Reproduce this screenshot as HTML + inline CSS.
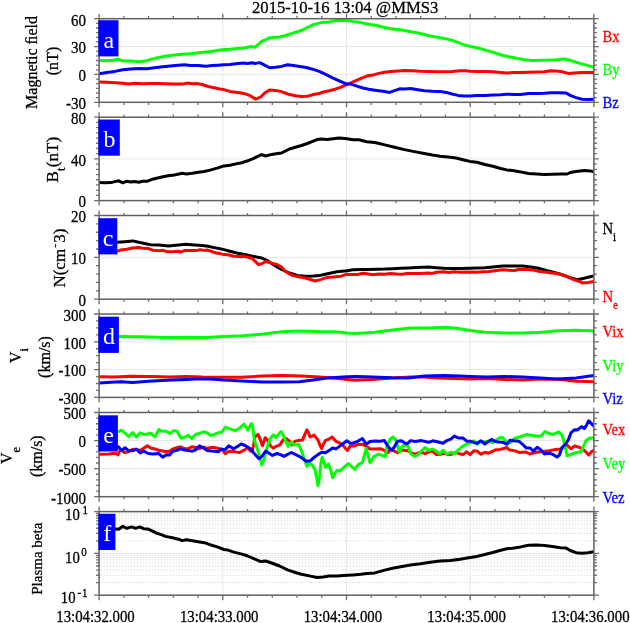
<!DOCTYPE html><html><head><meta charset="utf-8"><style>html,body{margin:0;padding:0;background:#fff;overflow:hidden}svg{display:block}</style></head><body><svg width="630" height="623" viewBox="0 0 630 623">
<rect width="630" height="623" fill="#fff"/>
<line x1="99.1" y1="46.57" x2="593.9" y2="46.57" stroke="#e8e8e8" stroke-width="1"/><line x1="99.1" y1="74.43" x2="593.9" y2="74.43" stroke="#e8e8e8" stroke-width="1"/><line x1="222.80" y1="18.7" x2="222.80" y2="102.3" stroke="#e8e8e8" stroke-width="1"/><line x1="346.50" y1="18.7" x2="346.50" y2="102.3" stroke="#e8e8e8" stroke-width="1"/><line x1="470.20" y1="18.7" x2="470.20" y2="102.3" stroke="#e8e8e8" stroke-width="1"/>
<clipPath id="cpa"><rect x="99.1" y="18.7" width="494.80" height="83.60"/></clipPath><g clip-path="url(#cpa)">
<polyline points="99.0,82.1 106.9,82.3 114.9,82.7 122.8,83.3 128.8,84.1 134.7,83.3 142.7,83.7 150.6,83.5 158.5,83.5 166.5,83.7 174.4,84.1 182.3,84.1 187.3,83.1 192.3,83.7 196.2,83.5 202.2,84.5 208.1,86.5 214.1,87.8 220.0,89.0 224.0,89.6 229.9,91.4 237.9,92.4 243.8,93.4 249.8,95.4 255.7,99.2 260.7,97.0 264.7,93.0 269.6,90.0 275.6,90.4 281.5,91.6 287.5,94.0 295.4,95.8 301.4,96.4 307.3,96.2 313.3,94.6 319.2,93.6 323.2,92.0 329.1,90.8 335.1,89.2 341.0,87.1 347.0,84.3 351.0,82.9 356.9,80.1 362.9,77.7 366.8,76.1 372.8,75.1 378.7,73.4 384.7,72.2 390.6,71.4 398.6,71.0 404.5,70.6 412.5,70.8 420.4,71.2 428.3,71.4 436.3,71.8 444.2,71.8 452.1,71.6 460.1,70.8 466.0,70.8 470.0,71.2 476.9,71.4 484.9,71.6 492.8,71.8 500.7,72.4 506.7,73.0 512.7,72.6 520.6,72.6 528.5,72.2 536.5,72.0 544.4,71.8 550.3,70.8 556.3,71.0 562.3,71.8 568.2,73.4 574.2,73.0 582.1,72.6 588.0,72.6 594.0,72.6" fill="none" stroke="#ff0000" stroke-width="3" stroke-linejoin="round" stroke-linecap="round"/>
<polyline points="99.0,60.3 106.9,60.7 112.9,60.3 117.8,59.3 122.8,60.9 130.7,61.1 138.7,61.7 145.6,60.9 152.6,58.9 158.5,57.5 166.5,56.1 174.4,55.1 182.3,54.3 190.3,53.7 198.2,52.7 206.1,51.9 214.1,50.9 224.0,49.6 229.9,49.2 237.9,48.4 243.8,48.0 247.8,47.2 251.8,46.4 254.7,47.4 257.7,45.0 261.7,41.4 269.6,37.8 279.5,36.9 285.5,35.5 293.4,32.9 301.4,30.5 307.3,27.5 313.3,24.6 321.2,22.6 329.1,22.0 335.1,20.6 341.0,20.2 347.0,20.6 352.9,21.6 360.9,22.6 368.8,24.2 376.7,25.5 384.7,27.5 392.6,29.1 398.6,29.5 404.5,30.5 412.5,31.9 420.4,33.5 428.3,35.5 436.3,37.1 444.2,38.4 452.1,40.4 458.1,42.4 464.0,45.0 470.0,46.4 476.9,47.8 484.9,49.9 492.8,52.3 500.7,54.7 508.7,56.7 516.6,58.3 524.6,59.7 532.5,60.5 540.4,60.3 548.4,60.1 556.3,59.7 564.2,59.1 568.2,59.7 574.2,61.7 580.1,63.4 588.0,65.6 594.0,67.2" fill="none" stroke="#00ff00" stroke-width="3" stroke-linejoin="round" stroke-linecap="round"/>
<polyline points="99.0,73.8 106.9,72.6 114.9,71.4 122.8,69.8 130.7,69.0 138.7,68.6 146.6,68.8 154.6,67.8 162.5,66.8 170.4,66.0 178.4,65.2 184.3,64.8 190.3,65.4 198.2,65.6 206.1,66.2 212.1,65.6 218.0,65.2 224.0,64.8 229.9,64.6 237.9,63.4 243.8,63.0 247.8,63.4 251.8,62.8 255.7,63.4 259.7,62.6 263.7,64.6 269.6,67.8 275.6,67.2 281.5,66.4 287.5,64.8 293.4,65.6 301.4,66.8 307.3,67.8 313.3,69.4 319.2,71.4 325.2,74.2 333.1,78.1 341.0,81.7 347.0,84.1 351.0,84.1 356.9,86.1 362.9,88.0 368.8,89.2 376.7,90.4 384.7,91.6 389.6,92.4 394.6,90.6 399.6,88.8 404.5,89.0 410.5,88.6 416.4,89.6 424.4,90.8 432.3,91.2 440.2,91.4 446.2,92.4 452.1,94.0 458.1,95.4 464.0,96.0 470.0,96.0 476.9,95.4 484.9,95.4 492.8,95.0 500.7,94.8 506.7,94.2 514.6,94.6 520.6,94.4 528.5,93.6 536.5,93.4 544.4,93.2 550.3,92.8 558.3,92.8 566.2,93.0 570.2,95.4 576.1,97.6 582.1,99.2 588.0,99.6 594.0,99.2" fill="none" stroke="#0000ff" stroke-width="3" stroke-linejoin="round" stroke-linecap="round"/>
</g>
<rect x="99.1" y="18.7" width="494.80" height="83.60" fill="none" stroke="#606060" stroke-width="1.5"/>
<path d="M99.10 18.7v-5M99.10 102.3v5M123.84 18.7v-2.6M123.84 102.3v2.6M148.58 18.7v-2.6M148.58 102.3v2.6M173.32 18.7v-2.6M173.32 102.3v2.6M198.06 18.7v-2.6M198.06 102.3v2.6M222.80 18.7v-5M222.80 102.3v5M247.54 18.7v-2.6M247.54 102.3v2.6M272.28 18.7v-2.6M272.28 102.3v2.6M297.02 18.7v-2.6M297.02 102.3v2.6M321.76 18.7v-2.6M321.76 102.3v2.6M346.50 18.7v-5M346.50 102.3v5M371.24 18.7v-2.6M371.24 102.3v2.6M395.98 18.7v-2.6M395.98 102.3v2.6M420.72 18.7v-2.6M420.72 102.3v2.6M445.46 18.7v-2.6M445.46 102.3v2.6M470.20 18.7v-5M470.20 102.3v5M494.94 18.7v-2.6M494.94 102.3v2.6M519.68 18.7v-2.6M519.68 102.3v2.6M544.42 18.7v-2.6M544.42 102.3v2.6M569.16 18.7v-2.6M569.16 102.3v2.6M593.90 18.7v-5M593.90 102.3v5M99.1 102.30h-5M593.9 102.30h5M99.1 97.66h-3M593.9 97.66h3M99.1 93.01h-3M593.9 93.01h3M99.1 88.37h-3M593.9 88.37h3M99.1 83.72h-3M593.9 83.72h3M99.1 79.08h-3M593.9 79.08h3M99.1 74.43h-5M593.9 74.43h5M99.1 69.79h-3M593.9 69.79h3M99.1 65.14h-3M593.9 65.14h3M99.1 60.50h-3M593.9 60.50h3M99.1 55.86h-3M593.9 55.86h3M99.1 51.21h-3M593.9 51.21h3M99.1 46.57h-5M593.9 46.57h5M99.1 41.92h-3M593.9 41.92h3M99.1 37.28h-3M593.9 37.28h3M99.1 32.63h-3M593.9 32.63h3M99.1 27.99h-3M593.9 27.99h3M99.1 23.34h-3M593.9 23.34h3M99.1 18.70h-5M593.9 18.70h5" stroke="#6c6c6c" stroke-width="1.3" fill="none"/>
<line x1="99.1" y1="158.90" x2="593.9" y2="158.90" stroke="#e8e8e8" stroke-width="1"/><line x1="222.80" y1="117.2" x2="222.80" y2="200.6" stroke="#e8e8e8" stroke-width="1"/><line x1="346.50" y1="117.2" x2="346.50" y2="200.6" stroke="#e8e8e8" stroke-width="1"/><line x1="470.20" y1="117.2" x2="470.20" y2="200.6" stroke="#e8e8e8" stroke-width="1"/>
<clipPath id="cpb"><rect x="99.1" y="117.2" width="494.80" height="83.40"/></clipPath><g clip-path="url(#cpb)">
<polyline points="99.0,182.6 105.0,182.8 110.9,182.6 114.9,181.6 118.8,180.8 122.8,182.8 126.8,181.2 130.7,182.0 134.7,181.6 138.7,182.2 142.7,181.2 147.6,181.2 152.6,179.2 158.5,177.8 166.5,176.0 174.4,175.0 182.3,173.3 186.3,173.9 192.3,173.3 198.2,172.3 204.2,171.5 210.1,170.1 218.0,167.9 224.0,165.9 229.9,165.3 235.9,163.9 241.8,162.7 247.8,160.8 253.7,158.4 257.7,156.4 261.7,154.6 265.7,156.0 271.6,154.4 277.6,153.4 281.5,153.0 285.5,151.0 289.5,149.0 295.4,147.3 301.4,145.5 307.3,143.5 313.3,141.1 317.2,139.5 321.2,139.1 327.2,139.5 333.1,138.7 339.1,137.9 347.0,138.7 352.9,139.7 358.9,139.7 366.8,141.7 374.8,142.5 384.7,144.9 394.6,147.3 404.5,149.6 414.4,151.6 424.4,153.4 432.3,155.0 440.2,156.2 448.2,157.0 456.1,158.0 464.0,160.0 470.0,161.4 476.9,162.3 484.9,164.5 492.8,166.3 500.7,168.5 506.7,169.9 512.7,170.5 520.6,171.9 528.5,173.5 536.5,174.0 544.4,174.4 552.3,174.2 560.3,174.0 567.2,174.0 570.2,172.5 576.1,171.5 584.1,170.5 590.0,170.9 594.0,171.7" fill="none" stroke="#000000" stroke-width="3.0" stroke-linejoin="round" stroke-linecap="round"/>
</g>
<rect x="99.1" y="117.2" width="494.80" height="83.40" fill="none" stroke="#606060" stroke-width="1.5"/>
<path d="M99.10 117.2v-5M99.10 200.6v5M123.84 117.2v-2.6M123.84 200.6v2.6M148.58 117.2v-2.6M148.58 200.6v2.6M173.32 117.2v-2.6M173.32 200.6v2.6M198.06 117.2v-2.6M198.06 200.6v2.6M222.80 117.2v-5M222.80 200.6v5M247.54 117.2v-2.6M247.54 200.6v2.6M272.28 117.2v-2.6M272.28 200.6v2.6M297.02 117.2v-2.6M297.02 200.6v2.6M321.76 117.2v-2.6M321.76 200.6v2.6M346.50 117.2v-5M346.50 200.6v5M371.24 117.2v-2.6M371.24 200.6v2.6M395.98 117.2v-2.6M395.98 200.6v2.6M420.72 117.2v-2.6M420.72 200.6v2.6M445.46 117.2v-2.6M445.46 200.6v2.6M470.20 117.2v-5M470.20 200.6v5M494.94 117.2v-2.6M494.94 200.6v2.6M519.68 117.2v-2.6M519.68 200.6v2.6M544.42 117.2v-2.6M544.42 200.6v2.6M569.16 117.2v-2.6M569.16 200.6v2.6M593.90 117.2v-5M593.90 200.6v5M99.1 200.60h-5M593.9 200.60h5M99.1 195.39h-3M593.9 195.39h3M99.1 190.17h-3M593.9 190.17h3M99.1 184.96h-3M593.9 184.96h3M99.1 179.75h-3M593.9 179.75h3M99.1 174.54h-3M593.9 174.54h3M99.1 169.32h-3M593.9 169.32h3M99.1 164.11h-3M593.9 164.11h3M99.1 158.90h-5M593.9 158.90h5M99.1 153.69h-3M593.9 153.69h3M99.1 148.47h-3M593.9 148.47h3M99.1 143.26h-3M593.9 143.26h3M99.1 138.05h-3M593.9 138.05h3M99.1 132.84h-3M593.9 132.84h3M99.1 127.62h-3M593.9 127.62h3M99.1 122.41h-3M593.9 122.41h3M99.1 117.20h-5M593.9 117.20h5" stroke="#6c6c6c" stroke-width="1.3" fill="none"/>
<line x1="99.1" y1="257.35" x2="593.9" y2="257.35" stroke="#e8e8e8" stroke-width="1"/><line x1="222.80" y1="215.5" x2="222.80" y2="299.2" stroke="#e8e8e8" stroke-width="1"/><line x1="346.50" y1="215.5" x2="346.50" y2="299.2" stroke="#e8e8e8" stroke-width="1"/><line x1="470.20" y1="215.5" x2="470.20" y2="299.2" stroke="#e8e8e8" stroke-width="1"/>
<clipPath id="cpc"><rect x="99.1" y="215.5" width="494.80" height="83.70"/></clipPath><g clip-path="url(#cpc)">
<polyline points="99.0,242.7 106.9,242.5 117.3,242.3 124.8,241.7 132.7,240.9 138.7,242.3 144.6,243.5 150.6,244.7 158.5,245.1 168.4,245.9 178.4,245.1 186.3,244.3 194.2,244.9 202.2,245.5 208.1,246.3 214.1,247.6 220.0,248.8 224.0,249.6 229.9,251.2 237.9,253.2 245.8,254.8 253.7,256.4 261.7,258.0 267.6,260.7 273.6,264.7 281.5,269.5 289.5,273.0 297.4,275.4 305.3,276.2 313.3,276.0 319.2,275.6 325.2,274.2 331.1,273.0 337.1,271.8 347.0,270.7 352.9,269.7 360.9,269.5 368.8,269.5 376.7,269.3 384.7,269.1 392.6,268.7 400.6,268.3 408.5,267.9 416.4,267.5 428.3,267.1 436.3,267.7 444.2,268.3 452.1,268.5 460.1,268.5 470.0,268.3 476.9,268.1 484.9,267.7 492.8,266.9 502.7,266.1 512.7,265.9 522.6,265.9 530.5,266.9 538.4,268.3 546.4,270.5 554.3,272.4 562.3,274.8 570.2,277.6 577.1,279.8 584.1,278.2 590.0,276.8 594.0,276.0" fill="none" stroke="#000000" stroke-width="3" stroke-linejoin="round" stroke-linecap="round"/>
<polyline points="99.0,252.2 108.9,251.6 117.3,251.2 120.8,250.0 126.8,249.2 132.7,248.0 138.7,247.6 142.7,248.2 148.6,248.6 152.6,250.2 156.5,250.4 160.5,250.8 162.5,250.2 166.5,251.4 170.4,251.8 174.4,251.6 178.4,251.2 180.3,252.2 184.3,250.6 190.3,250.4 196.2,250.6 200.2,249.6 204.2,250.4 207.1,250.0 212.1,251.6 216.1,253.0 220.0,253.6 224.0,254.6 228.0,254.8 233.9,256.2 239.9,256.4 243.8,256.2 251.8,258.2 258.7,264.7 261.7,263.7 265.7,261.5 271.6,263.1 277.6,264.7 281.5,267.1 285.5,271.5 291.4,275.0 297.4,276.6 305.3,278.0 315.3,281.0 321.2,279.4 327.2,277.4 333.1,277.0 341.0,276.2 347.0,274.2 349.0,274.4 356.9,274.6 362.9,273.2 366.8,273.8 372.8,274.8 378.7,274.0 384.7,274.2 390.6,273.6 396.6,274.0 402.5,274.2 406.5,273.4 412.5,273.4 420.4,273.4 428.3,273.0 432.3,273.4 436.3,272.2 444.2,271.8 448.2,272.4 454.1,271.8 460.1,272.2 470.0,272.0 476.9,272.2 482.9,271.7 488.8,271.5 494.8,270.7 502.7,269.7 508.7,270.3 514.6,270.5 518.6,269.5 526.5,269.3 532.5,269.9 538.4,271.3 546.4,272.2 554.3,273.2 561.3,274.4 568.2,277.0 574.2,279.8 580.1,281.6 582.1,283.0 588.0,282.6 594.0,281.6" fill="none" stroke="#ff0000" stroke-width="3" stroke-linejoin="round" stroke-linecap="round"/>
</g>
<rect x="99.1" y="215.5" width="494.80" height="83.70" fill="none" stroke="#606060" stroke-width="1.5"/>
<path d="M99.10 215.5v-5M99.10 299.2v5M123.84 215.5v-2.6M123.84 299.2v2.6M148.58 215.5v-2.6M148.58 299.2v2.6M173.32 215.5v-2.6M173.32 299.2v2.6M198.06 215.5v-2.6M198.06 299.2v2.6M222.80 215.5v-5M222.80 299.2v5M247.54 215.5v-2.6M247.54 299.2v2.6M272.28 215.5v-2.6M272.28 299.2v2.6M297.02 215.5v-2.6M297.02 299.2v2.6M321.76 215.5v-2.6M321.76 299.2v2.6M346.50 215.5v-5M346.50 299.2v5M371.24 215.5v-2.6M371.24 299.2v2.6M395.98 215.5v-2.6M395.98 299.2v2.6M420.72 215.5v-2.6M420.72 299.2v2.6M445.46 215.5v-2.6M445.46 299.2v2.6M470.20 215.5v-5M470.20 299.2v5M494.94 215.5v-2.6M494.94 299.2v2.6M519.68 215.5v-2.6M519.68 299.2v2.6M544.42 215.5v-2.6M544.42 299.2v2.6M569.16 215.5v-2.6M569.16 299.2v2.6M593.90 215.5v-5M593.90 299.2v5M99.1 299.20h-5M593.9 299.20h5M99.1 290.83h-3M593.9 290.83h3M99.1 282.46h-3M593.9 282.46h3M99.1 274.09h-3M593.9 274.09h3M99.1 265.72h-3M593.9 265.72h3M99.1 257.35h-5M593.9 257.35h5M99.1 248.98h-3M593.9 248.98h3M99.1 240.61h-3M593.9 240.61h3M99.1 232.24h-3M593.9 232.24h3M99.1 223.87h-3M593.9 223.87h3M99.1 215.50h-5M593.9 215.50h5" stroke="#6c6c6c" stroke-width="1.3" fill="none"/>
<line x1="99.1" y1="341.80" x2="593.9" y2="341.80" stroke="#e8e8e8" stroke-width="1"/><line x1="99.1" y1="369.60" x2="593.9" y2="369.60" stroke="#e8e8e8" stroke-width="1"/><line x1="222.80" y1="314.0" x2="222.80" y2="397.4" stroke="#e8e8e8" stroke-width="1"/><line x1="346.50" y1="314.0" x2="346.50" y2="397.4" stroke="#e8e8e8" stroke-width="1"/><line x1="470.20" y1="314.0" x2="470.20" y2="397.4" stroke="#e8e8e8" stroke-width="1"/>
<clipPath id="cpd"><rect x="99.1" y="314.0" width="494.80" height="83.40"/></clipPath><g clip-path="url(#cpd)">
<polyline points="99.0,376.7 114.9,376.9 130.7,376.3 150.6,376.5 170.4,376.9 186.3,376.5 202.2,377.1 224.0,377.3 241.8,377.3 261.7,376.1 281.5,375.5 301.4,376.1 319.2,376.9 333.1,377.9 347.0,379.5 354.9,380.3 372.8,379.5 392.6,377.9 410.5,376.9 424.4,376.9 438.3,377.9 454.1,378.5 470.0,378.9 486.9,378.5 504.7,379.5 522.6,380.1 540.4,378.9 558.3,379.3 576.1,381.3 594.0,381.7" fill="none" stroke="#ff0000" stroke-width="3" stroke-linejoin="round" stroke-linecap="round"/>
<polyline points="99.0,336.4 118.8,336.4 138.7,336.8 158.5,337.2 170.4,337.4 188.3,337.2 206.1,337.6 224.0,336.4 241.8,335.8 261.7,334.2 281.5,331.8 297.4,330.9 311.3,331.3 321.2,331.7 335.1,331.7 347.0,333.0 354.9,333.6 372.8,332.6 392.6,329.9 410.5,328.1 428.3,327.9 446.2,327.3 458.1,328.5 470.0,330.5 484.9,332.2 504.7,333.0 520.6,333.0 538.4,332.4 558.3,330.7 576.1,330.3 594.0,330.9" fill="none" stroke="#00ff00" stroke-width="3" stroke-linejoin="round" stroke-linecap="round"/>
<polyline points="99.0,383.0 110.9,382.2 120.8,381.8 132.7,382.4 148.6,381.3 166.5,380.3 186.3,379.5 200.2,378.7 210.1,379.1 224.0,380.1 241.8,380.9 261.7,382.0 281.5,382.0 299.4,381.7 313.3,379.9 327.2,378.1 347.0,376.7 356.9,376.5 372.8,376.9 392.6,377.7 408.5,377.9 424.4,376.1 444.2,375.5 460.1,376.1 470.0,376.5 486.9,377.1 504.7,376.5 522.6,377.1 540.4,377.9 556.3,379.1 576.1,377.9 594.0,375.5" fill="none" stroke="#0000ff" stroke-width="3" stroke-linejoin="round" stroke-linecap="round"/>
</g>
<rect x="99.1" y="314.0" width="494.80" height="83.40" fill="none" stroke="#606060" stroke-width="1.5"/>
<path d="M99.10 314.0v-5M99.10 397.4v5M123.84 314.0v-2.6M123.84 397.4v2.6M148.58 314.0v-2.6M148.58 397.4v2.6M173.32 314.0v-2.6M173.32 397.4v2.6M198.06 314.0v-2.6M198.06 397.4v2.6M222.80 314.0v-5M222.80 397.4v5M247.54 314.0v-2.6M247.54 397.4v2.6M272.28 314.0v-2.6M272.28 397.4v2.6M297.02 314.0v-2.6M297.02 397.4v2.6M321.76 314.0v-2.6M321.76 397.4v2.6M346.50 314.0v-5M346.50 397.4v5M371.24 314.0v-2.6M371.24 397.4v2.6M395.98 314.0v-2.6M395.98 397.4v2.6M420.72 314.0v-2.6M420.72 397.4v2.6M445.46 314.0v-2.6M445.46 397.4v2.6M470.20 314.0v-5M470.20 397.4v5M494.94 314.0v-2.6M494.94 397.4v2.6M519.68 314.0v-2.6M519.68 397.4v2.6M544.42 314.0v-2.6M544.42 397.4v2.6M569.16 314.0v-2.6M569.16 397.4v2.6M593.90 314.0v-5M593.90 397.4v5M99.1 397.40h-5M593.9 397.40h5M99.1 390.45h-3M593.9 390.45h3M99.1 383.50h-3M593.9 383.50h3M99.1 376.55h-3M593.9 376.55h3M99.1 369.60h-5M593.9 369.60h5M99.1 362.65h-3M593.9 362.65h3M99.1 355.70h-3M593.9 355.70h3M99.1 348.75h-3M593.9 348.75h3M99.1 341.80h-5M593.9 341.80h5M99.1 334.85h-3M593.9 334.85h3M99.1 327.90h-3M593.9 327.90h3M99.1 320.95h-3M593.9 320.95h3M99.1 314.00h-5M593.9 314.00h5" stroke="#6c6c6c" stroke-width="1.3" fill="none"/>
<line x1="99.1" y1="440.57" x2="593.9" y2="440.57" stroke="#e8e8e8" stroke-width="1"/><line x1="99.1" y1="468.63" x2="593.9" y2="468.63" stroke="#e8e8e8" stroke-width="1"/><line x1="222.80" y1="412.5" x2="222.80" y2="496.7" stroke="#e8e8e8" stroke-width="1"/><line x1="346.50" y1="412.5" x2="346.50" y2="496.7" stroke="#e8e8e8" stroke-width="1"/><line x1="470.20" y1="412.5" x2="470.20" y2="496.7" stroke="#e8e8e8" stroke-width="1"/>
<clipPath id="cpe"><rect x="99.1" y="412.5" width="494.80" height="84.20"/></clipPath><g clip-path="url(#cpe)">
<polyline points="99.0,454.3 108.9,453.9 115.9,453.3 117.9,454.9 119.8,451.1 121.7,450.1 124.5,452.5 127.4,452.0 132.1,449.6 136.0,449.2 139.8,450.6 143.6,448.2 147.4,445.8 151.2,448.2 155.0,449.0 159.8,450.6 165.5,451.6 169.3,451.3 172.9,448.9 176.7,447.8 180.5,446.8 184.3,448.7 188.1,448.5 191.9,446.8 195.7,447.5 199.5,448.7 203.3,447.0 207.1,448.5 211.0,447.5 214.8,447.6 218.6,448.5 222.4,449.9 225.2,453.7 228.8,451.2 234.5,451.6 239.3,452.6 244.0,450.2 247.9,447.8 250.7,451.2 252.6,449.7 255.2,436.3 258.1,434.4 260.5,440.1 262.4,445.8 265.2,437.7 267.6,440.1 270.5,445.8 273.3,448.2 276.2,446.3 280.0,444.9 282.9,440.1 285.7,438.2 289.5,441.1 291.9,444.9 295.2,441.1 298.8,440.4 302.6,439.9 304.5,435.1 306.9,429.9 308.3,432.3 310.2,437.0 314.0,435.1 317.9,439.9 320.2,445.6 321.7,448.5 323.6,443.7 325.5,440.4 328.3,439.4 332.1,437.0 336.0,441.3 339.8,443.2 342.6,444.6 345.0,448.0 347.4,450.4 350.2,446.1 353.8,446.1 357.6,444.6 362.4,444.2 366.2,446.6 370.0,448.9 374.8,449.1 380.5,448.7 384.3,450.4 388.1,452.7 391.0,448.9 394.8,451.3 397.6,452.7 401.4,449.9 405.2,450.4 407.9,450.8 411.7,453.2 415.5,454.2 419.3,452.7 422.1,452.3 425.0,453.7 428.8,451.8 432.6,451.3 436.4,454.6 440.2,454.2 444.0,453.2 447.9,454.6 451.7,454.2 455.5,452.3 459.3,453.7 462.9,454.6 466.7,451.8 470.0,454.6 473.8,450.8 477.1,451.3 481.0,454.2 484.8,452.3 488.6,453.2 492.4,451.3 496.2,449.7 500.0,449.4 503.8,448.5 506.7,447.5 509.5,449.9 513.3,450.4 520.1,452.6 525.2,451.9 530.2,453.9 536.6,452.3 542.9,451.6 549.3,450.7 555.6,449.4 560.7,449.0 565.8,445.6 567.7,445.6 570.9,448.8 574.7,446.0 579.8,447.5 584.8,450.7 588.7,455.1 591.8,451.3 594.4,450.0" fill="none" stroke="#ff0000" stroke-width="3" stroke-linejoin="round" stroke-linecap="round"/>
<polyline points="99.0,431.4 108.9,431.4 117.8,431.4 118.3,431.6 121.2,430.3 124.5,432.5 128.8,436.6 132.6,432.5 136.4,437.0 140.2,432.8 143.6,434.4 147.4,433.9 150.7,433.2 155.0,436.8 158.8,429.6 162.6,431.3 166.4,431.3 169.8,433.5 173.8,430.6 177.1,431.3 181.0,438.3 184.3,437.3 188.1,435.4 191.9,438.5 195.7,434.2 199.5,433.5 203.3,431.8 206.7,432.7 211.0,435.6 214.8,434.2 218.6,432.7 221.9,432.3 225.2,427.2 229.8,428.8 235.5,430.7 239.3,428.3 244.0,424.0 247.9,430.2 251.2,423.6 252.6,425.9 254.3,440.1 256.7,446.8 259.5,456.3 261.9,464.9 264.3,458.2 266.7,448.7 268.6,443.0 270.5,438.2 273.3,434.9 276.2,437.7 279.0,433.5 281.0,431.6 283.8,436.3 285.7,441.1 288.1,446.3 291.4,442.0 294.3,444.9 298.8,444.6 301.7,451.3 304.5,459.9 306.9,466.3 309.3,463.0 312.1,464.9 315.0,469.6 316.9,479.2 318.0,485.8 319.6,477.3 320.7,464.9 322.1,457.3 323.6,461.1 325.5,467.3 328.3,463.9 330.7,469.6 332.6,477.7 335.0,473.5 336.9,470.6 339.8,471.1 343.6,467.7 348.3,463.5 354.8,469.4 358.6,464.2 362.4,462.7 366.2,448.5 370.0,462.7 373.8,456.6 378.6,454.2 382.4,455.6 385.2,456.6 387.1,446.1 390.0,439.4 392.9,437.0 395.7,439.4 397.6,446.1 399.5,452.3 402.4,446.1 405.2,445.1 407.9,446.1 410.7,453.7 414.5,456.4 418.3,454.6 421.7,450.8 425.0,447.5 428.8,450.4 432.6,448.9 436.4,451.3 439.8,453.7 443.1,450.4 446.9,454.2 450.7,452.3 454.5,453.7 458.3,449.9 462.9,446.1 466.7,444.2 470.5,442.7 473.8,440.8 477.1,444.2 481.0,441.3 484.8,441.8 488.6,441.3 492.4,442.7 496.2,439.9 500.0,437.5 502.9,437.7 505.2,440.8 507.6,443.7 510.5,442.7 514.3,438.5 520.1,436.7 526.4,434.6 532.8,435.4 539.1,436.3 541.7,435.4 544.8,431.6 548.0,432.9 552.5,434.6 555.6,433.3 558.8,432.0 562.0,434.8 563.9,441.2 565.8,450.0 567.1,455.8 570.9,454.5 576.0,452.6 581.0,451.9 582.9,447.5 586.1,440.5 589.9,438.0 594.4,438.0" fill="none" stroke="#00ff00" stroke-width="3" stroke-linejoin="round" stroke-linecap="round"/>
<polyline points="99.0,448.3 108.9,447.9 117.8,447.3 118.3,446.8 121.7,450.6 125.0,447.7 129.3,451.1 133.1,450.6 136.4,449.2 140.2,453.0 143.6,451.1 148.3,453.5 153.1,454.1 158.8,453.5 162.6,457.3 166.4,454.7 169.3,455.1 172.9,451.3 176.7,450.4 180.5,448.9 184.3,450.1 188.1,450.4 191.9,451.3 195.7,449.9 199.5,445.9 203.3,448.0 207.1,450.4 211.0,451.0 214.8,451.3 218.6,451.8 221.4,448.9 224.8,449.9 228.8,445.9 233.6,448.8 237.4,446.4 241.2,444.0 245.0,445.5 248.8,447.8 252.6,450.7 253.3,452.5 256.7,456.3 259.0,458.7 261.9,456.3 265.7,451.1 268.6,453.0 272.4,455.4 277.1,453.5 281.0,454.9 283.8,456.3 287.6,454.4 291.4,452.5 295.2,454.4 298.8,456.1 302.6,458.5 306.4,461.3 310.2,460.8 314.0,457.5 317.9,454.6 321.7,452.3 325.5,452.7 329.3,450.4 332.6,448.0 336.0,448.9 339.8,446.1 343.6,443.2 346.9,440.8 350.2,443.2 352.9,443.2 357.6,441.3 362.4,438.5 366.2,444.2 370.0,441.5 374.8,441.1 380.5,441.3 384.3,440.4 387.1,445.1 390.0,448.9 391.9,450.4 394.8,446.1 397.6,441.3 401.4,440.8 405.2,443.2 407.4,443.7 410.7,440.6 415.5,441.5 421.2,440.6 428.8,442.3 432.6,440.8 437.4,441.8 443.1,443.2 446.9,440.6 450.7,439.2 454.5,436.1 458.3,438.0 462.9,438.0 466.7,441.1 470.5,441.3 474.3,442.7 477.1,443.2 481.0,440.8 484.8,444.0 488.6,441.3 491.9,439.4 495.2,441.5 499.0,442.1 502.9,442.3 506.7,444.2 510.0,440.2 513.3,440.8 518.8,441.2 522.6,444.3 526.4,448.1 530.2,448.1 533.4,451.1 537.2,447.3 540.4,449.4 544.2,453.9 549.3,453.2 553.1,454.5 556.9,457.0 559.4,455.1 562.0,447.5 565.8,443.7 568.3,439.9 570.9,432.9 574.7,429.7 577.2,430.0 581.7,426.6 584.2,428.5 586.1,425.9 588.7,420.8 591.2,423.4 594.4,426.6" fill="none" stroke="#0000ff" stroke-width="3" stroke-linejoin="round" stroke-linecap="round"/>
</g>
<rect x="99.1" y="412.5" width="494.80" height="84.20" fill="none" stroke="#606060" stroke-width="1.5"/>
<path d="M99.10 412.5v-5M99.10 496.7v5M123.84 412.5v-2.6M123.84 496.7v2.6M148.58 412.5v-2.6M148.58 496.7v2.6M173.32 412.5v-2.6M173.32 496.7v2.6M198.06 412.5v-2.6M198.06 496.7v2.6M222.80 412.5v-5M222.80 496.7v5M247.54 412.5v-2.6M247.54 496.7v2.6M272.28 412.5v-2.6M272.28 496.7v2.6M297.02 412.5v-2.6M297.02 496.7v2.6M321.76 412.5v-2.6M321.76 496.7v2.6M346.50 412.5v-5M346.50 496.7v5M371.24 412.5v-2.6M371.24 496.7v2.6M395.98 412.5v-2.6M395.98 496.7v2.6M420.72 412.5v-2.6M420.72 496.7v2.6M445.46 412.5v-2.6M445.46 496.7v2.6M470.20 412.5v-5M470.20 496.7v5M494.94 412.5v-2.6M494.94 496.7v2.6M519.68 412.5v-2.6M519.68 496.7v2.6M544.42 412.5v-2.6M544.42 496.7v2.6M569.16 412.5v-2.6M569.16 496.7v2.6M593.90 412.5v-5M593.90 496.7v5M99.1 496.70h-5M593.9 496.70h5M99.1 491.09h-3M593.9 491.09h3M99.1 485.47h-3M593.9 485.47h3M99.1 479.86h-3M593.9 479.86h3M99.1 474.25h-3M593.9 474.25h3M99.1 468.63h-5M593.9 468.63h5M99.1 463.02h-3M593.9 463.02h3M99.1 457.41h-3M593.9 457.41h3M99.1 451.79h-3M593.9 451.79h3M99.1 446.18h-3M593.9 446.18h3M99.1 440.57h-5M593.9 440.57h5M99.1 434.95h-3M593.9 434.95h3M99.1 429.34h-3M593.9 429.34h3M99.1 423.73h-3M593.9 423.73h3M99.1 418.11h-3M593.9 418.11h3M99.1 412.50h-5M593.9 412.50h5" stroke="#6c6c6c" stroke-width="1.3" fill="none"/>
<line x1="99.1" y1="582.62" x2="593.9" y2="582.62" stroke="#dcdcdc" stroke-width="1" stroke-dasharray="1.5,1.5" stroke-dashoffset="1.45"/><line x1="99.1" y1="575.26" x2="593.9" y2="575.26" stroke="#dcdcdc" stroke-width="1" stroke-dasharray="1.5,1.5" stroke-dashoffset="1.45"/><line x1="99.1" y1="570.03" x2="593.9" y2="570.03" stroke="#dcdcdc" stroke-width="1" stroke-dasharray="1.5,1.5" stroke-dashoffset="1.45"/><line x1="99.1" y1="565.98" x2="593.9" y2="565.98" stroke="#dcdcdc" stroke-width="1" stroke-dasharray="1.5,1.5" stroke-dashoffset="1.45"/><line x1="99.1" y1="562.67" x2="593.9" y2="562.67" stroke="#dcdcdc" stroke-width="1" stroke-dasharray="1.5,1.5" stroke-dashoffset="1.45"/><line x1="99.1" y1="559.87" x2="593.9" y2="559.87" stroke="#dcdcdc" stroke-width="1" stroke-dasharray="1.5,1.5" stroke-dashoffset="1.45"/><line x1="99.1" y1="557.45" x2="593.9" y2="557.45" stroke="#dcdcdc" stroke-width="1" stroke-dasharray="1.5,1.5" stroke-dashoffset="1.45"/><line x1="99.1" y1="555.31" x2="593.9" y2="555.31" stroke="#dcdcdc" stroke-width="1" stroke-dasharray="1.5,1.5" stroke-dashoffset="1.45"/><line x1="99.1" y1="540.82" x2="593.9" y2="540.82" stroke="#dcdcdc" stroke-width="1" stroke-dasharray="1.5,1.5" stroke-dashoffset="1.45"/><line x1="99.1" y1="533.46" x2="593.9" y2="533.46" stroke="#dcdcdc" stroke-width="1" stroke-dasharray="1.5,1.5" stroke-dashoffset="1.45"/><line x1="99.1" y1="528.23" x2="593.9" y2="528.23" stroke="#dcdcdc" stroke-width="1" stroke-dasharray="1.5,1.5" stroke-dashoffset="1.45"/><line x1="99.1" y1="524.18" x2="593.9" y2="524.18" stroke="#dcdcdc" stroke-width="1" stroke-dasharray="1.5,1.5" stroke-dashoffset="1.45"/><line x1="99.1" y1="520.87" x2="593.9" y2="520.87" stroke="#dcdcdc" stroke-width="1" stroke-dasharray="1.5,1.5" stroke-dashoffset="1.45"/><line x1="99.1" y1="518.07" x2="593.9" y2="518.07" stroke="#dcdcdc" stroke-width="1" stroke-dasharray="1.5,1.5" stroke-dashoffset="1.45"/><line x1="99.1" y1="515.65" x2="593.9" y2="515.65" stroke="#dcdcdc" stroke-width="1" stroke-dasharray="1.5,1.5" stroke-dashoffset="1.45"/><line x1="99.1" y1="513.51" x2="593.9" y2="513.51" stroke="#dcdcdc" stroke-width="1" stroke-dasharray="1.5,1.5" stroke-dashoffset="1.45"/><line x1="99.1" y1="553.40" x2="593.9" y2="553.40" stroke="#e8e8e8" stroke-width="1"/><line x1="222.80" y1="511.6" x2="222.80" y2="595.2" stroke="#e8e8e8" stroke-width="1"/><line x1="346.50" y1="511.6" x2="346.50" y2="595.2" stroke="#e8e8e8" stroke-width="1"/><line x1="470.20" y1="511.6" x2="470.20" y2="595.2" stroke="#e8e8e8" stroke-width="1"/>
<clipPath id="cpf"><rect x="99.1" y="511.6" width="494.80" height="83.60"/></clipPath><g clip-path="url(#cpf)">
<polyline points="99.0,528.9 108.9,528.9 115.9,528.9 118.8,529.3 122.8,526.3 126.8,528.3 131.7,526.9 135.7,528.3 139.7,526.9 143.6,528.7 147.6,528.9 152.6,531.2 156.5,533.2 160.5,534.4 165.5,536.4 172.4,537.8 178.4,539.2 182.3,540.6 186.3,539.8 192.3,540.8 198.2,541.8 204.2,542.7 210.1,544.7 218.0,547.1 224.0,549.5 228.0,550.1 233.9,552.1 241.8,554.1 247.8,556.0 253.7,558.6 260.7,561.6 265.7,561.0 271.6,563.0 279.5,566.0 287.5,569.9 295.4,572.5 301.4,574.3 309.3,575.9 317.2,577.5 323.2,576.9 329.1,576.1 337.1,575.9 347.0,575.3 352.9,574.9 360.9,574.3 366.8,573.5 374.8,572.9 384.7,570.1 392.6,568.3 400.6,566.8 410.5,565.0 420.4,563.8 430.3,562.2 440.2,561.0 450.2,560.4 460.1,559.2 470.0,557.6 476.9,556.4 484.9,554.5 492.8,552.5 500.7,550.3 506.7,548.7 512.7,548.3 520.6,546.9 528.5,545.3 536.5,545.1 544.4,545.5 552.3,546.5 560.3,547.7 566.2,548.1 570.2,550.5 576.1,552.7 582.1,553.3 588.0,552.7 594.0,551.7" fill="none" stroke="#000000" stroke-width="3.0" stroke-linejoin="round" stroke-linecap="round"/>
</g>
<rect x="99.1" y="511.6" width="494.80" height="83.60" fill="none" stroke="#606060" stroke-width="1.5"/>
<path d="M99.10 511.6v-5M99.10 595.2v5M123.84 511.6v-2.6M123.84 595.2v2.6M148.58 511.6v-2.6M148.58 595.2v2.6M173.32 511.6v-2.6M173.32 595.2v2.6M198.06 511.6v-2.6M198.06 595.2v2.6M222.80 511.6v-5M222.80 595.2v5M247.54 511.6v-2.6M247.54 595.2v2.6M272.28 511.6v-2.6M272.28 595.2v2.6M297.02 511.6v-2.6M297.02 595.2v2.6M321.76 511.6v-2.6M321.76 595.2v2.6M346.50 511.6v-5M346.50 595.2v5M371.24 511.6v-2.6M371.24 595.2v2.6M395.98 511.6v-2.6M395.98 595.2v2.6M420.72 511.6v-2.6M420.72 595.2v2.6M445.46 511.6v-2.6M445.46 595.2v2.6M470.20 511.6v-5M470.20 595.2v5M494.94 511.6v-2.6M494.94 595.2v2.6M519.68 511.6v-2.6M519.68 595.2v2.6M544.42 511.6v-2.6M544.42 595.2v2.6M569.16 511.6v-2.6M569.16 595.2v2.6M593.90 511.6v-5M593.90 595.2v5M99.1 595.20h-5M593.9 595.20h5M99.1 582.62h-3M593.9 582.62h3M99.1 575.26h-3M593.9 575.26h3M99.1 570.03h-3M593.9 570.03h3M99.1 565.98h-3M593.9 565.98h3M99.1 562.67h-3M593.9 562.67h3M99.1 559.87h-3M593.9 559.87h3M99.1 557.45h-3M593.9 557.45h3M99.1 555.31h-3M593.9 555.31h3M99.1 553.40h-5M593.9 553.40h5M99.1 540.82h-3M593.9 540.82h3M99.1 533.46h-3M593.9 533.46h3M99.1 528.23h-3M593.9 528.23h3M99.1 524.18h-3M593.9 524.18h3M99.1 520.87h-3M593.9 520.87h3M99.1 518.07h-3M593.9 518.07h3M99.1 515.65h-3M593.9 515.65h3M99.1 513.51h-3M593.9 513.51h3M99.1 511.60h-5M593.9 511.60h5" stroke="#6c6c6c" stroke-width="1.3" fill="none"/>
<g font-family="Liberation Serif, serif" stroke-width="0.3" opacity="0.999"><text transform="translate(252.00,12.70) scale(0.962,1)" font-size="17.3" text-anchor="start" fill="#000" stroke="#000">2015-10-16 13:04 @MMS3</text><text transform="translate(85.90,25.50) scale(0.935,1)" font-size="16" text-anchor="end" fill="#000" stroke="#000">60</text><text transform="translate(85.90,53.37) scale(0.935,1)" font-size="16" text-anchor="end" fill="#000" stroke="#000">30</text><text transform="translate(85.90,81.23) scale(0.935,1)" font-size="16" text-anchor="end" fill="#000" stroke="#000">0</text><text transform="translate(85.90,109.10) scale(0.935,1)" font-size="16" text-anchor="end" fill="#000" stroke="#000">-30</text><text transform="translate(85.90,124.00) scale(0.935,1)" font-size="16" text-anchor="end" fill="#000" stroke="#000">80</text><text transform="translate(85.90,165.70) scale(0.935,1)" font-size="16" text-anchor="end" fill="#000" stroke="#000">40</text><text transform="translate(85.90,207.40) scale(0.935,1)" font-size="16" text-anchor="end" fill="#000" stroke="#000">0</text><text transform="translate(85.90,222.30) scale(0.935,1)" font-size="16" text-anchor="end" fill="#000" stroke="#000">20</text><text transform="translate(85.90,264.15) scale(0.935,1)" font-size="16" text-anchor="end" fill="#000" stroke="#000">10</text><text transform="translate(85.90,306.00) scale(0.935,1)" font-size="16" text-anchor="end" fill="#000" stroke="#000">0</text><text transform="translate(85.90,320.80) scale(0.935,1)" font-size="16" text-anchor="end" fill="#000" stroke="#000">300</text><text transform="translate(85.90,348.60) scale(0.935,1)" font-size="16" text-anchor="end" fill="#000" stroke="#000">100</text><text transform="translate(85.90,376.40) scale(0.935,1)" font-size="16" text-anchor="end" fill="#000" stroke="#000">-100</text><text transform="translate(85.90,404.20) scale(0.935,1)" font-size="16" text-anchor="end" fill="#000" stroke="#000">-300</text><text transform="translate(85.90,419.30) scale(0.935,1)" font-size="16" text-anchor="end" fill="#000" stroke="#000">500</text><text transform="translate(85.90,447.37) scale(0.935,1)" font-size="16" text-anchor="end" fill="#000" stroke="#000">0</text><text transform="translate(85.90,475.43) scale(0.935,1)" font-size="16" text-anchor="end" fill="#000" stroke="#000">-500</text><text transform="translate(85.90,503.50) scale(0.935,1)" font-size="16" text-anchor="end" fill="#000" stroke="#000">-1000</text><text transform="translate(79.8,520.3) scale(0.92,1)" font-size="16" text-anchor="end" stroke="#000">10</text><text transform="translate(79.8,562.6) scale(0.92,1)" font-size="16" text-anchor="end" stroke="#000">10</text><text transform="translate(75.5,603.4) scale(0.92,1)" font-size="16" text-anchor="end" stroke="#000">10</text><text transform="translate(82.4,513.6) scale(0.92,1)" font-size="12" stroke="#000">1</text><text transform="translate(81.2,555.6) scale(0.92,1)" font-size="12" stroke="#000">0</text><text transform="translate(77.6,596.6) scale(0.92,1)" font-size="12" stroke="#000">-</text><text transform="translate(82.0,596.6) scale(0.92,1)" font-size="12" stroke="#000">1</text><text transform="translate(95.50,622.00) scale(0.925,1)" font-size="16" text-anchor="middle" fill="#000" stroke="#000">13:04:32.000</text><text transform="translate(219.20,622.00) scale(0.925,1)" font-size="16" text-anchor="middle" fill="#000" stroke="#000">13:04:33.000</text><text transform="translate(342.90,622.00) scale(0.925,1)" font-size="16" text-anchor="middle" fill="#000" stroke="#000">13:04:34.000</text><text transform="translate(466.60,622.00) scale(0.925,1)" font-size="16" text-anchor="middle" fill="#000" stroke="#000">13:04:35.000</text><text transform="translate(590.30,622.00) scale(0.925,1)" font-size="16" text-anchor="middle" fill="#000" stroke="#000">13:04:36.000</text><text transform="translate(36.50,62.50) rotate(-90)" font-size="16" text-anchor="middle" stroke="#000" >Magnetic &#xFB01;eld</text><text transform="translate(58.20,61.00) rotate(-90)" font-size="16" text-anchor="middle" stroke="#000" >(nT)</text><text transform="translate(57.60,159.70) rotate(-90)" font-size="17" text-anchor="middle" stroke="#000" >B<tspan font-size="12.5" dy="7">t</tspan><tspan dy="-7" dx="0.5">(nT)</tspan></text><text transform="translate(64.50,258.10) rotate(-90)" font-size="17" text-anchor="middle" stroke="#000" >N(cm<tspan font-size="11" dy="-6.5" dx="1.2">-</tspan><tspan dy="6.5" dx="1.2">3)</tspan></text><text transform="translate(20.80,355.50) rotate(-90)" font-size="16" text-anchor="middle" stroke="#000" >V<tspan font-size="12.5" dy="7.5">i</tspan></text><text transform="translate(50.00,357.00) rotate(-90)" font-size="16" text-anchor="middle" stroke="#000" >(km/s)</text><text transform="translate(12.20,455.40) rotate(-90)" font-size="16" text-anchor="middle" stroke="#000" >V<tspan font-size="12.5" dy="7.5">e</tspan></text><text transform="translate(42.20,456.20) rotate(-90)" font-size="16" text-anchor="middle" stroke="#000" >(km/s)</text><text transform="translate(42.00,558.70) rotate(-90)" font-size="15" text-anchor="middle" stroke="#000" >Plasma beta</text><text transform="translate(602.50,41.60) scale(0.92,1)" font-size="16" text-anchor="start" fill="#ff0000" stroke="#ff0000">Bx</text><text transform="translate(602.50,74.80) scale(0.92,1)" font-size="16" text-anchor="start" fill="#00ff00" stroke="#00ff00">By</text><text transform="translate(602.50,108.20) scale(0.92,1)" font-size="16" text-anchor="start" fill="#0000ff" stroke="#0000ff">Bz</text><text transform="translate(602.50,234.30) scale(0.92,1)" font-size="16" text-anchor="start" fill="#000" stroke="#000">N<tspan font-size="12" dy="7">i</tspan></text><text transform="translate(602.50,301.60) scale(0.92,1)" font-size="16" text-anchor="start" fill="#ff0000" stroke="#ff0000">N<tspan font-size="12" dy="7">e</tspan></text><text transform="translate(602.50,336.90) scale(0.92,1)" font-size="16" text-anchor="start" fill="#ff0000" stroke="#ff0000">Vix</text><text transform="translate(602.50,370.60) scale(0.92,1)" font-size="16" text-anchor="start" fill="#00ff00" stroke="#00ff00">Viy</text><text transform="translate(602.50,403.80) scale(0.92,1)" font-size="16" text-anchor="start" fill="#0000ff" stroke="#0000ff">Viz</text><text transform="translate(602.50,435.30) scale(0.92,1)" font-size="16" text-anchor="start" fill="#ff0000" stroke="#ff0000">Vex</text><text transform="translate(602.50,469.30) scale(0.92,1)" font-size="16" text-anchor="start" fill="#00ff00" stroke="#00ff00">Vey</text><text transform="translate(602.50,502.50) scale(0.92,1)" font-size="16" text-anchor="start" fill="#0000ff" stroke="#0000ff">Vez</text><rect x="98.39999999999999" y="20.2" width="20.10" height="36.2" fill="#0000ff"/><text x="108.80" y="47.50" font-size="24" fill="#fff" text-anchor="middle">a</text><rect x="98.39999999999999" y="119.5" width="21.40" height="36.2" fill="#0000ff"/><text x="109.45" y="146.80" font-size="24" fill="#fff" text-anchor="middle">b</text><rect x="98.39999999999999" y="218.2" width="18.90" height="36.2" fill="#0000ff"/><text x="108.20" y="245.50" font-size="24" fill="#fff" text-anchor="middle">c</text><rect x="98.39999999999999" y="316.7" width="20.50" height="36.2" fill="#0000ff"/><text x="109.00" y="344.00" font-size="24" fill="#fff" text-anchor="middle">d</text><rect x="98.39999999999999" y="415.3" width="19.50" height="36.2" fill="#0000ff"/><text x="108.50" y="442.60" font-size="24" fill="#fff" text-anchor="middle">e</text><rect x="98.39999999999999" y="513.8" width="17.00" height="36.2" fill="#0000ff"/><text x="107.25" y="541.10" font-size="24" fill="#fff" text-anchor="middle">f</text></g>
</svg></body></html>
